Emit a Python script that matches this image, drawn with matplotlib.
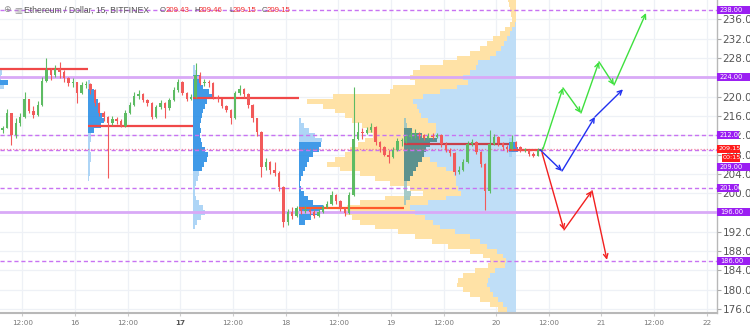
import matplotlib
matplotlib.use('Agg')
import matplotlib.pyplot as plt
import matplotlib.transforms as mtransforms
from matplotlib.patches import Rectangle
import numpy as np

# ---------------- data ----------------
candle_start = 15.3125          # day units (15 + 7.5h)
candle_hours = 1.0
first_open = 213.0
closes = [213.5, 216.5, 212.0, 214.5, 215.8, 219.5, 217.0, 216.2, 218.3, 223.3,
          225.5, 224.5, 225.8, 225.0, 223.8, 222.8, 223.0, 220.7, 222.5, 222.6,
          221.3, 218.6, 216.5, 215.8, 214.5, 215.4, 215.0, 214.0, 216.5, 218.3,
          220.2, 220.5, 219.2, 218.6, 215.8, 217.8, 218.6, 217.6, 219.3, 221.4,
          223.0, 220.7, 219.4, 220.0, 224.5, 222.8, 223.0, 222.8, 220.0, 219.4,
          218.0, 217.3, 215.6, 220.7, 221.6, 220.5, 218.2, 215.5, 212.6, 205.5,
          206.4, 204.8, 204.2, 201.2, 194.0, 196.2, 195.3, 196.9, 196.3, 196.6,
          196.1, 195.3, 196.2, 197.1, 197.8, 199.6, 198.4, 196.9, 195.8, 199.6,
          211.2, 212.6, 212.5, 213.1, 213.8, 210.6, 209.5, 208.0, 207.5, 209.0,
          210.8, 210.8, 211.6, 212.1, 212.2, 212.0, 211.5, 211.9, 211.7, 212.0,
          210.2, 209.0, 208.3, 204.3, 204.9, 206.4, 210.2, 210.6, 208.6, 206.0,
          200.5, 210.2, 211.6, 210.3, 209.5, 209.2, 210.6, 209.6, 208.9, 208.9,
          208.2, 207.8, 209.0, 209.15]
highs = [214.0, 217.5, 215.0, 215.5, 216.5, 221.0, 219.5, 218.0, 219.0, 224.0,
         228.0, 226.0, 226.5, 227.2, 225.5, 224.0, 223.8, 223.0, 223.0, 223.3,
         222.8, 221.5, 218.8, 217.0, 216.0, 216.0, 215.8, 215.3, 217.2, 218.8,
         221.0, 221.3, 220.8, 219.5, 218.8, 218.2, 219.2, 218.8, 219.8, 222.0,
         223.6, 223.2, 221.0, 220.6, 226.9, 225.0, 223.6, 223.4, 223.0, 220.4,
         219.6, 218.3, 217.5, 221.2, 222.3, 221.8, 220.8, 218.4, 215.6, 212.8,
         207.2, 206.6, 206.4, 204.5, 201.5, 196.8, 197.2, 197.4, 197.2, 197.3,
         197.0, 196.5, 196.8, 197.6, 198.4, 200.4, 199.8, 198.6, 197.2, 200.3,
         222.0, 214.8, 213.5, 213.8, 214.6, 214.0, 210.8, 209.8, 209.0, 209.5,
         211.4, 211.4, 212.0, 212.8, 213.2, 212.6, 212.3, 212.5, 212.4, 212.5,
         212.2, 210.5, 209.4, 208.5, 205.6, 207.0, 210.8, 211.3, 210.8, 208.8,
         206.2, 213.0, 212.2, 211.8, 210.6, 210.0, 212.0, 210.8, 209.8, 209.3,
         209.0, 208.5, 209.3, 209.46]
lows = [212.5, 213.5, 210.0, 211.5, 214.0, 215.5, 216.5, 215.5, 216.0, 218.0,
        223.0, 223.5, 224.0, 223.8, 223.0, 222.2, 222.0, 218.6, 220.5, 221.8,
        220.5, 218.0, 216.0, 215.0, 203.2, 214.2, 214.4, 213.6, 213.8, 216.3,
        218.0, 219.6, 218.8, 218.0, 215.3, 215.5, 217.5, 215.5, 217.3, 219.0,
        221.0, 220.3, 219.0, 219.2, 219.8, 222.3, 222.2, 222.0, 219.5, 218.8,
        217.6, 216.8, 214.4, 215.3, 220.4, 219.8, 217.6, 214.8, 211.8, 203.4,
        204.8, 204.0, 203.6, 200.5, 193.1, 193.5, 194.6, 195.0, 195.6, 195.9,
        195.5, 194.8, 195.0, 195.9, 197.0, 197.6, 197.8, 196.4, 195.2, 195.6,
        199.4, 211.0, 211.3, 212.2, 212.6, 210.0, 208.6, 207.6, 206.2, 207.2,
        208.8, 209.8, 210.4, 211.2, 211.5, 211.2, 211.0, 211.2, 211.2, 211.4,
        209.6, 208.6, 207.6, 203.8, 204.0, 204.6, 206.2, 209.8, 208.1, 205.4,
        196.5, 200.0, 210.0, 209.8, 209.0, 208.6, 209.0, 209.2, 208.6, 208.5,
        207.6, 207.4, 207.7, 208.9]

# session volume profiles (price level, volume units)
session_starts = [15.125, 16.125, 17.125, 18.125, 19.125, 20.125]
prof_prices = [
    [226, 225, 224, 223, 222, 221],
    list(range(223, 202, -1)),
    list(range(226, 192, -1)),
    list(range(215, 193, -1)),
    list(range(215, 197, -1)),
    [211, 210, 209, 208],
]
prof_vols = [
    [17.5, 19, 18, 25, 21, 16],
    [2, 4, 6, 8, 10, 11, 12, 14, 16, 13, 6, 3, 3, 2, 2, 2.5, 3, 2, 2, 1.5, 1],
    [2, 4, 7, 8, 10, 16, 19, 14, 12, 10, 9, 8, 7, 8, 7, 8, 9, 12, 15, 14, 11, 9,
     6, 5, 3, 2, 2, 3, 6, 10, 12, 8, 4, 2],
    [2, 5, 10, 16, 23, 22, 20, 14, 10, 8, 6, 4, 2, 1, 2, 5, 9, 14, 24, 20, 12, 6],
    [2, 3, 8, 18, 33, 26, 22, 20, 18, 14, 12, 9, 6, 3, 3, 7, 6, 2],
    [3, 6, 9, 3],
]
prof_value_area = [(222.5, 223.5), (213, 221), (205, 224), (194, 210), (203, 213), (209, 210)]
poc_prices = [225.7, 214.0, 219.8, 196.9, 210.1, 209.0]

# composite (fixed range) volume profile anchored at the right
comp_anchor = 20.185
comp_prices = list(range(240, 174, -1))
comp_total = [8, 7, 6, 5, 4, 6, 11, 16, 23, 29,
              36, 46, 59, 73, 96, 103, 106, 101, 123, 126,
              183, 209, 193, 181, 171, 164, 154, 148, 143, 151,
              158, 166, 171, 181, 189, 176, 156, 141, 126, 106,
              93, 131, 156, 169, 171, 164, 156, 141, 118, 101,
              84, 68, 46, 33, 26, 28, 41, 53, 58, 59,
              53, 46, 36, 26, 18, 13]
comp_up = [0, 0, 0, 0, 0, 1, 4, 6, 9, 12,
           15, 20, 26, 38, 40, 46, 53, 48, 59, 76,
           93, 103, 99, 97, 95, 88, 80, 80, 81, 88,
           93, 91, 93, 86, 79, 70, 62, 60, 60, 58,
           55, 70, 88, 106, 101, 91, 83, 76, 61, 46,
           36, 29, 19, 13, 10, 11, 21, 26, 28, 29,
           26, 23, 18, 13, 9, 6]

# horizontal levels
dashed_levels = [238.0, 212.0, 209.0, 201.0, 186.0]
solid_levels = [224.0, 196.0]
last_price = 209.15

# projection paths (day, price)
green_t = [20.444, 20.634, 20.805, 20.976, 21.119, 21.423]
green_p = [209.15, 221.8, 216.6, 227.2, 222.4, 237.3]
blue_t = [20.416, 20.625, 20.938, 21.204]
blue_p = [209.0, 204.6, 215.8, 221.5]
red_t = [20.435, 20.644, 20.91, 21.052]
red_p = [208.4, 192.4, 200.5, 186.2]

ytick_vals = list(range(176, 237, 4))
xtick_vals = [15.5, 16, 16.5, 17, 17.5, 18, 18.5, 19, 19.5, 20, 20.5, 21, 21.5, 22]
xtick_labels = ['12:00', '16', '12:00', '17', '12:00', '18', '12:00', '19',
                '12:00', '20', '12:00', '21', '12:00', '22']

# ---------------- figure ----------------
W, H = 750, 329
fig = plt.figure(figsize=(W / 100, H / 100), dpi=100)
fig.patch.set_facecolor('white')
ax = fig.add_axes([0, 16 / H, 717 / W, 313 / H])
X0, X1 = 15.2877, 22.097
Y0, Y1 = 175.19, 240.0
ax.set_xlim(X0, X1)
ax.set_ylim(Y0, Y1)
VOL_UNIT = (X1 - X0) / 717.0   # days per volume unit
PX_PER_PRICE = 313.0 / (Y1 - Y0)

# grid
for v in ytick_vals:
    ax.axhline(v, color='#eef1f6', lw=0.9, zorder=0)
for v in xtick_vals:
    ax.axvline(v, color='#eef1f6', lw=0.9, zorder=0)

# composite profile
ct = np.array(comp_total, float)
cu = np.array(comp_up, float)
cp = np.array(comp_prices, float)
ax.barh(cp, (ct - cu) * VOL_UNIT, left=comp_anchor - ct * VOL_UNIT, height=1.0,
        color='#ffe2a6', edgecolor='none', zorder=1)
ax.barh(cp, cu * VOL_UNIT, left=comp_anchor - cu * VOL_UNIT, height=1.0,
        color='#bfdef7', edgecolor='none', zorder=1)

# session profiles
for k, (s, pr, vo, va) in enumerate(zip(session_starts, prof_prices, prof_vols, prof_value_area)):
    pr = np.array(pr, float)
    vo = np.array(vo, float)
    inva = (pr >= va[0]) & (pr <= va[1])
    dark = '#4a8a8c' if k == 4 else '#2b8fe6'
    light = '#9cc6c4' if k == 4 else '#a5d1f5'
    ax.barh(pr[inva], vo[inva] * VOL_UNIT, left=s, height=1.0, color=dark,
            edgecolor='none', alpha=0.9, zorder=2)
    ax.barh(pr[~inva], vo[~inva] * VOL_UNIT, left=s, height=1.0, color=light,
            edgecolor='none', alpha=0.9, zorder=2)

# level lines
for lv in dashed_levels:
    ax.axhline(lv, color='#c873f2', lw=1.0, dashes=(3, 2), zorder=3)
for lv in solid_levels:
    ax.axhline(lv, color='#d9a9f7', lw=2.0, zorder=3)
ax.axhline(last_price, color='#f06080', lw=0.9, dashes=(1, 1.5), alpha=0.7, zorder=3)

# POC lines
last_t = candle_start + (len(closes) - 1) * candle_hours / 24
for k, (s, pp) in enumerate(zip(session_starts, poc_prices)):
    e = min(s + 1, last_t + 0.01)
    col = '#ff5a2a' if k == 3 else ('#c8404a' if k == 4 else '#f04848')
    ax.plot([s, e], [pp, pp], color=col, lw=1.6, zorder=4, solid_capstyle='butt')

# candles
n = len(closes)
t = candle_start + np.arange(n) * candle_hours / 24
c = np.array(closes)
o = np.concatenate([[first_open], c[:-1]])
hi = np.maximum(np.array(highs), np.maximum(o, c))
lo = np.minimum(np.array(lows), np.minimum(o, c))
up = c >= o
cols = np.where(up, '#5dbb63', '#f25a5a')
ax.vlines(t, lo, hi, colors=cols, lw=0.8, zorder=5)
body = np.where(np.abs(c - o) < 0.15, 0.15, np.abs(c - o))
ax.bar(t, body, bottom=np.minimum(o, c), width=0.55 / 24, color=cols,
       edgecolor='none', zorder=5)

# projection arrows
def draw_path(ts, ps, col):
    for i in range(len(ts) - 1):
        ax.annotate('', xy=(ts[i + 1], ps[i + 1]), xytext=(ts[i], ps[i]),
                    arrowprops=dict(arrowstyle='->', color=col, lw=1.0,
                                    shrinkA=0, shrinkB=0, mutation_scale=8),
                    zorder=6)

draw_path(green_t, green_p, '#3ee03e')
draw_path(blue_t, blue_p, '#2030f0')
draw_path(red_t, red_p, '#f22020')

# axes styling
for sp in ['top', 'left']:
    ax.spines[sp].set_visible(False)
ax.spines['right'].set_color('#b8b8b8')
ax.spines['right'].set_linewidth(1.0)
ax.spines['bottom'].set_color('#b8b8b8')
ax.spines['bottom'].set_linewidth(1.5)
ax.yaxis.tick_right()
ax.set_yticks(ytick_vals)
ax.set_yticklabels([f'{v:.2f}' for v in ytick_vals])
ax.tick_params(axis='y', length=3, pad=1, color='#aaaaaa', labelsize=7.5,
               labelcolor='#555555')
ax.set_xticks(xtick_vals)
ax.set_xticklabels(xtick_labels)
ax.tick_params(axis='x', length=2, pad=3, color='#cccccc', labelsize=5.2,
               labelcolor='#777777')
for lab in ax.get_xticklabels():
    if lab.get_text() == '17':
        lab.set_fontweight('bold')
        lab.set_color('#555555')

# right-hand labels
bt = mtransforms.blended_transform_factory(ax.transAxes, ax.transData)
box_h = 8 / PX_PER_PRICE
label_shift = {209.0: -17}
short_boxes = {212.0, 201.0}
for lv in sorted(dashed_levels + solid_levels):
    yc = lv + label_shift.get(lv, 0) / PX_PER_PRICE
    w = (22 if lv in short_boxes else 34) / 717
    ax.add_patch(Rectangle((1.0, yc - box_h / 2), w, box_h, transform=bt,
                           facecolor='#9b1ff2', edgecolor='none', clip_on=False, zorder=10))
    ax.text(1.0 + 3 / 717, yc, f'{lv:.2f}', transform=bt, fontsize=4.8, color='white',
            va='center', ha='left', clip_on=False, zorder=11)
ax.add_patch(Rectangle((1.0, last_price - box_h / 2), 23 / 717, box_h, transform=bt,
                       facecolor='#ff1a1a', edgecolor='none', clip_on=False, zorder=10))
ax.text(1.0 + 1.5 / 717, last_price, f'{last_price:.2f}', transform=bt, fontsize=4.6,
        color='white', va='center', ha='left', clip_on=False, zorder=11)
yc2 = last_price - 9 / PX_PER_PRICE
ax.add_patch(Rectangle((1.0 + 5 / 717, yc2 - box_h / 2), 18 / 717, box_h, transform=bt,
                       facecolor='#ff1a1a', edgecolor='none', clip_on=False, zorder=10))
ax.text(1.0 + 6 / 717, yc2, '00:15', transform=bt, fontsize=4.6, color='white',
        va='center', ha='left', clip_on=False, zorder=11)

# header
hy = 1 - 10 / H
fig.text(3 / W, hy, '\u2295', fontsize=6.5, color='#888888', va='center')
fig.text(14 / W, hy, '\u25a5', fontsize=6, color='#999999', va='center')
fig.text(24 / W, hy, 'Ethereum / Dollar, 15, BITFINEX', fontsize=6.2,
         family='Liberation Sans', color='#555555', va='center')
parts = [(160, 'O', '#555555'), (166, '209.43', '#f23030'),
         (194, 'H', '#555555'), (199, '209.46', '#f23030'),
         (229, 'L', '#555555'), (233, '209.15', '#f23030'),
         (262, 'C', '#555555'), (267, '209.15', '#f23030')]
for xp, s, col in parts:
    fig.text(xp / W, hy, s, fontsize=5.6, family='Liberation Sans', color=col, va='center')

fig.savefig('out.png', dpi=100)
